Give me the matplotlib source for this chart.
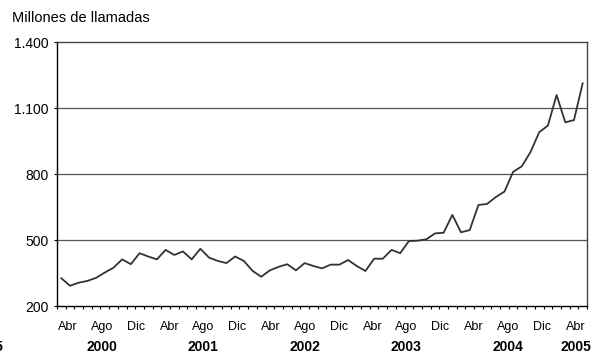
import numpy as np
import matplotlib
matplotlib.use("Agg")
import matplotlib.pyplot as plt
import matplotlib.transforms as mtransforms

plt.rcParams['font.family'] = ['Liberation Sans', 'DejaVu Sans']

# llamadas mensuales (millones), abr 2000 - abr 2005
llamadas = [326, 292, 306, 314, 328, 352, 374, 412, 390, 440,
            425, 412, 455, 432, 448, 412, 460, 420, 405, 395,
            425, 405, 360, 333, 362, 378, 390, 362, 395, 382,
            371, 388, 388, 409, 382, 359, 415, 415, 455, 440,
            495, 497, 503, 530, 533, 614, 535, 545, 659, 664,
            695, 720, 810, 835, 900, 990, 1020, 1159, 1035, 1045,
            1212]
meses = ['Abr', 'Ago', 'Dic', 'Abr', 'Ago', 'Dic', 'Abr', 'Ago',
         'Dic', 'Abr', 'Ago', 'Dic', 'Abr', 'Ago', 'Dic', 'Abr']
anios = ['2000', '2001', '2002', '2003', '2004', '2005']
anio_idx = [1, 4, 7, 10, 13, 15]   # etiqueta de mes bajo la que va cada año
yticks = [200, 500, 800, 1100, 1400]
ytick_labels = ['200', '500', '800', '1.100', '1.400']

x = np.arange(len(llamadas))

fig = plt.figure(figsize=(5.91, 3.53), dpi=100)
ax = fig.add_axes([57/591, 47/353, 530/591, 264/353])

# lineas horizontales
for v in yticks[1:-1]:
    ax.axhline(v, color='#555555', lw=0.9, zorder=1)

ax.plot(x, llamadas, color='#333333', lw=1.3, solid_joinstyle='round', zorder=3)

ax.set_xlim(-0.5, len(llamadas) - 0.5)
ax.set_ylim(200, 1400)
ax.set_yticks(yticks, ytick_labels)

# posiciones de las etiquetas de mes (como en el original, algo comprimidas)
month_pos = np.linspace(0.75, 59.2, len(meses))
ax.set_xticks(month_pos, meses)
ax.set_xticks(np.arange(-0.5, len(llamadas)), minor=True)
ax.tick_params(axis='x', which='major', length=0, pad=11, labelsize=9)
ax.tick_params(axis='x', which='minor', length=2.5, width=0.8, direction='out')
ax.tick_params(axis='y', length=2, width=0.8, pad=4, labelsize=10)

for s in ['left', 'bottom']:
    ax.spines[s].set_linewidth(1.0)
    ax.spines[s].set_color('black')
for s in ['top', 'right']:
    ax.spines[s].set_linewidth(1.0)
    ax.spines[s].set_color('#444444')

trans = mtransforms.blended_transform_factory(ax.transData, ax.transAxes)
for a, k in zip(anios, anio_idx):
    ax.text(month_pos[k], -0.155, a, transform=trans, ha='center', va='center',
            fontsize=10, fontweight='bold')

fig.text(12/591, 1 - 18/353, 'Millones de llamadas', fontsize=10.5, va='center')
# resto de una etiqueta cortada en el borde izquierdo
fig.text(3/591, 1 - 347/353, '2005', fontsize=10, fontweight='bold',
         ha='right', va='center')

fig.savefig('out.png', dpi=100)
